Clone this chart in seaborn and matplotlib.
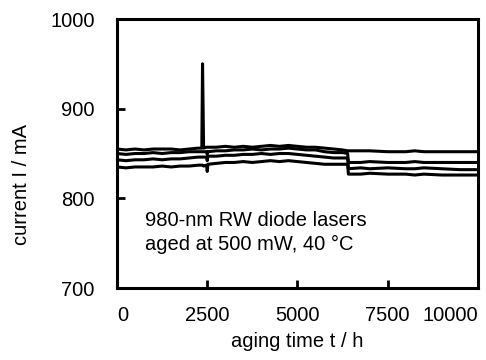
import matplotlib
matplotlib.use("Agg")
import matplotlib.pyplot as plt
import pandas as pd
import seaborn as sns

# aging time in hours (shared grid for all four lasers)
hours = [0, 250, 500, 750, 1000, 1250, 1500, 1750, 2000, 2250, 2350, 2370, 2400,
         2480, 2500, 2520, 2750, 3000, 3250, 3500, 3750, 4000, 4250, 4500, 4750,
         5000, 5250, 5500, 5750, 6000, 6250, 6390, 6410, 6750, 7000, 7500, 8000,
         8250, 8500, 9000, 9500, 10000]

# operating current in mA, one list per laser
laser_1 = [855, 854, 855, 854, 855, 855, 855, 854, 855, 856, 856, 950, 856,
           857, 857, 857, 857, 858, 857, 858, 857, 858, 859, 858, 859, 858,
           857, 857, 856, 855, 854, 853, 853, 853, 853, 852, 852, 853, 852,
           852, 852, 852]
laser_2 = [850, 849, 850, 850, 851, 850, 851, 851, 852, 852, 852, 852, 852,
           852, 849, 852, 853, 853, 854, 854, 855, 854, 855, 855, 856, 855,
           854, 854, 852, 851, 851, 850, 840, 840, 841, 840, 840, 841, 840,
           840, 840, 840]
laser_3 = [843, 842, 843, 843, 844, 843, 844, 844, 845, 846, 846, 846, 846,
           846, 842, 847, 847, 848, 848, 849, 849, 850, 849, 850, 850, 849,
           848, 847, 846, 845, 845, 845, 833, 834, 833, 834, 833, 833, 834,
           833, 832, 832]
laser_4 = [835, 834, 835, 835, 835, 836, 835, 836, 836, 837, 837, 837, 836,
           837, 830, 838, 839, 840, 840, 841, 840, 841, 842, 841, 842, 841,
           840, 839, 838, 838, 838, 838, 827, 827, 828, 827, 827, 826, 827,
           826, 826, 826]

x_ticks = [0, 2500, 5000, 7500, 10000]
y_ticks = [700, 800, 900, 1000]

frames = []
for name, vals in [("1", laser_1), ("2", laser_2), ("3", laser_3), ("4", laser_4)]:
    frames.append(pd.DataFrame({"t": hours, "I": vals, "laser": name}))
df = pd.concat(frames, ignore_index=True)

sns.set_style("white")
plt.rcParams["font.family"] = ["Liberation Sans", "DejaVu Sans"]
plt.rcParams["text.color"] = "black"
plt.rcParams["axes.labelcolor"] = "black"
plt.rcParams["xtick.color"] = "black"
plt.rcParams["ytick.color"] = "black"

fig = plt.figure(figsize=(4.86, 3.6), dpi=100)
ax = fig.add_axes([0.2407, 0.2, 0.7428, 0.7472])

sns.lineplot(data=df, x="t", y="I", hue="laser", palette=["black"] * 4,
             linewidth=2.2, legend=False, sort=False, estimator=None, ax=ax)

ax.set_xlim(0, 10000)
ax.set_ylim(700, 1000)
ax.set_xticks(x_ticks)
ax.set_yticks(y_ticks)
ax.set_xticklabels([str(v) for v in x_ticks])
ax.set_yticklabels([str(v) for v in y_ticks])
ax.tick_params(bottom=True, left=True, direction="in", length=6, width=2,
               labelsize=14.5, color="black", labelcolor="black")
ax.tick_params(axis="x", pad=13)
ax.tick_params(axis="y", pad=16)
labels = ax.get_xticklabels()
labels[0].set_ha("left")
labels[-1].set_ha("right")

for sp in ax.spines.values():
    sp.set_linewidth(2.2)
    sp.set_color("black")

ax.set_xlabel("aging time t / h", fontsize=14.5)
ax.set_ylabel("current I / mA", fontsize=14.5)
ax.xaxis.set_label_coords(0.5, -0.165)
ax.yaxis.set_label_coords(-0.238, 0.383)

ax.text(780, 775, "980-nm RW diode lasers", fontsize=14.5, va="center")
ax.text(780, 748, "aged at 500 mW, 40 °C", fontsize=14.5, va="center")

fig.savefig("out.png", dpi=100)
